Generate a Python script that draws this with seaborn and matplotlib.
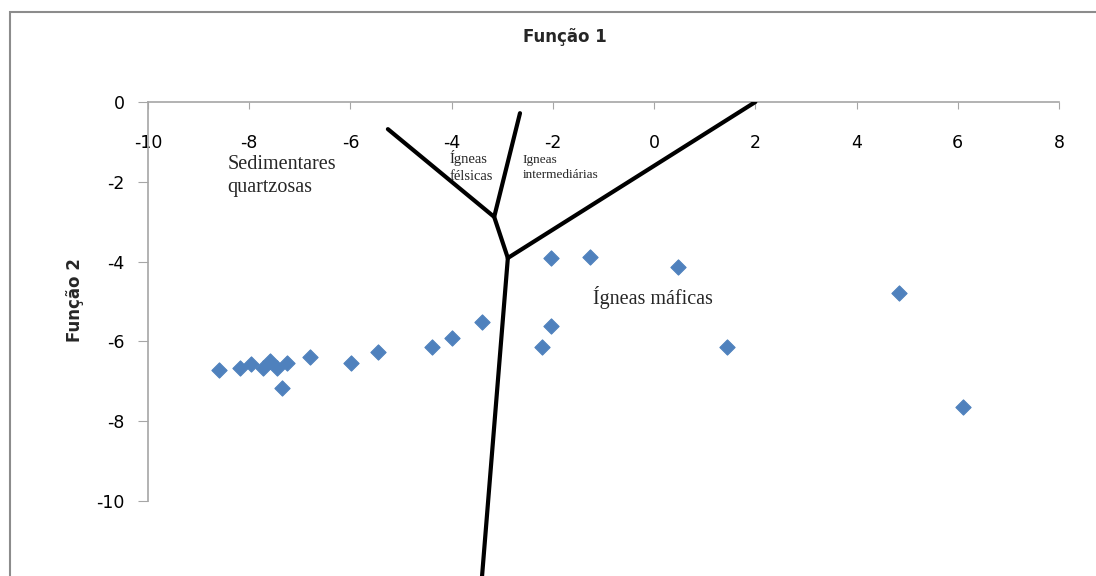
import matplotlib
matplotlib.use("Agg")
import matplotlib.pyplot as plt
import seaborn as sns
import pandas as pd
from matplotlib.patches import Rectangle

# discriminant scores
funcao1 = [-8.60, -8.18, -7.97, -7.73, -7.59, -7.45, -7.25, -7.36, -6.80, -5.99,
           -5.46, -4.38, -3.99, -3.41, -2.04, -1.27, -2.04, -2.21, 0.48, 1.44,
           4.83, 6.10]
funcao2 = [-6.72, -6.67, -6.57, -6.66, -6.48, -6.66, -6.54, -7.17, -6.38, -6.54,
           -6.26, -6.15, -5.92, -5.51, -3.92, -3.88, -5.61, -6.13, -4.14, -6.13,
           -4.78, -7.64]

# field boundaries (Função 1, Função 2)
linha_felsica_x = [-5.26, -3.16, -2.89]
linha_felsica_y = [-0.68, -2.88, -3.91]
linha_interm_x = [-2.65, -3.16]
linha_interm_y = [-0.28, -2.88]
linha_mafica_x = [-2.89, 2.0]
linha_mafica_y = [-3.91, 0.0]
linha_sed_x = [-2.89, -3.42]
linha_sed_y = [-3.91, -12.2]

x_ticks = [-10, -8, -6, -4, -2, 0, 2, 4, 6, 8]
y_ticks = [0, -2, -4, -6, -8, -10]

df = pd.DataFrame({"Função 1": funcao1, "Função 2": funcao2})

sns.set_style("white")
plt.rcParams['font.family'] = ['DejaVu Sans']
plt.rcParams['axes.unicode_minus'] = False

fig = plt.figure(figsize=(10.96, 5.76), dpi=100)
ax = fig.add_axes([148 / 1096, 0, (1059 - 148) / 1096, (576 - 102) / 576])

for lx, ly in [(linha_felsica_x, linha_felsica_y), (linha_interm_x, linha_interm_y),
               (linha_mafica_x, linha_mafica_y), (linha_sed_x, linha_sed_y)]:
    ax.plot(lx, ly, color="black", lw=3, solid_capstyle="round", zorder=2)

sns.scatterplot(data=df, x="Função 1", y="Função 2", ax=ax, marker="D", s=60,
                color="#4F81BD", edgecolor="#4F81BD", linewidth=0.8, zorder=3)

ax.set_xlim(-10, 8)
ax.set_ylim(-11.88, 0)
ax.set_xticks(x_ticks)
ax.set_yticks(y_ticks)
ax.set_xlabel("")
ax.set_ylabel("")

ax.spines["top"].set_visible(False)
ax.spines["right"].set_visible(False)
ax.spines["bottom"].set_position(("data", 0))
ax.spines["left"].set_bounds(-10, 0)
for sp in ["bottom", "left"]:
    ax.spines[sp].set_color("#a6a6a6")
    ax.spines[sp].set_linewidth(1.2)
    ax.spines[sp].set_zorder(1)

ax.tick_params(axis="x", direction="out", length=5, color="#a6a6a6", pad=18,
               labelsize=12.5, labelcolor="black", bottom=True)
ax.tick_params(axis="y", direction="out", length=7, color="#a6a6a6", pad=10,
               labelsize=12.5, labelcolor="black", left=True)
ax.set_facecolor("none")

serif = ["Liberation Serif", "DejaVu Serif"]
ax.text(-8.43, -1.85, "Sedimentares\nquartzosas", family=serif, fontsize=14.5,
        va="center", ha="left", linespacing=1.25)
ax.text(-4.05, -1.62, "Ígneas\nfélsicas", family=serif, fontsize=10.5,
        va="center", ha="left", linespacing=1.4)
ax.text(-2.6, -1.65, "Igneas\nintermediárias", family=serif, fontsize=9.5,
        va="center", ha="left", linespacing=1.3)
ax.text(-1.2, -4.9, "Ígneas máficas", family=serif, fontsize=14.5,
        va="center", ha="left")

fig.text(565 / 1096, 1 - 37 / 576, "Função 1", ha="center", va="center",
         fontsize=12, fontweight="bold")
fig.text(75 / 1096, 1 - 300 / 576, "Função 2", ha="center", va="center",
         rotation=90, fontsize=12, fontweight="bold")

fig.patches.append(Rectangle((10 / 1096, -0.1), 1.2, 1.1 - 12 / 576,
                             transform=fig.transFigure, fill=False,
                             edgecolor="#8c8c8c", linewidth=1.5))

fig.savefig("out.png", dpi=100)
